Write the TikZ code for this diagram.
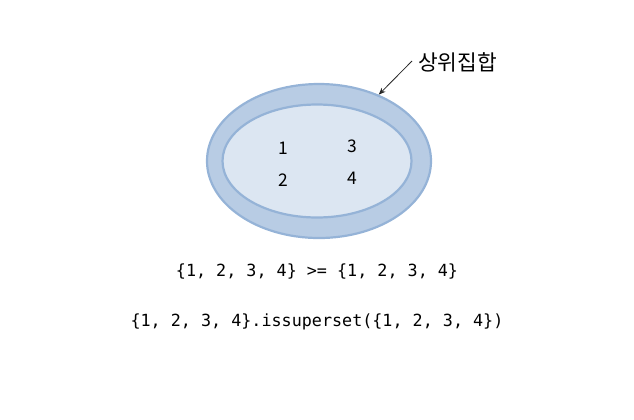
\documentclass[tikz,border=0pt]{standalone}
\usepackage{fontspec}
\setmonofont{DejaVu Sans Mono}
\newfontfamily\korfont{Noto Sans CJK KR}
\usepackage{xcolor}
\definecolor{SETBORDER}{RGB}{149,179,215}
\definecolor{OUTERCOLOR}{RGB}{184,204,228}
\definecolor{INNERCOLOR}{RGB}{220,230,242}
\usepackage{tikz}
\usetikzlibrary{shapes.geometric,arrows.meta,positioning}
\tikzset{
  set-style/.style = {
    ellipse, draw=SETBORDER, line width=2.2bp,
    fill=#1, inner sep=0pt
  },
  outer-set-style/.style = {
    set-style=OUTERCOLOR,
    minimum width=224bp, minimum height=154bp
  },
  inner-set-style/.style = {
    set-style=INNERCOLOR,
    minimum width=189bp, minimum height=113bp
  },
  elem-style/.style = {
    font=\korfont\fontsize{17.5}{20}\selectfont, inner sep=0pt
  },
  label-style/.style = {
    font=\korfont\fontsize{21.5}{24}\selectfont, inner sep=0pt
  },
  code-style/.style = {
    font=\ttfamily\fontsize{16.8}{19}\selectfont, inner sep=0pt
  },
  every edge/.style = {draw, -{Stealth[length=7bp,width=5.5bp]}, line width=0.8bp, black!85}
}

\begin{document}
\begin{tikzpicture}[x=1bp,y=-1bp]
    \useasboundingbox (0,0) rectangle (634,419);

    %%% sets
    \node[outer-set-style] (outerSet) at (319,161) {};
    \node[inner-set-style] (innerSet) at (317,161) {};

    %%% elements
    \node[elem-style] (elemOne) at (283,148) {1};
    \node[elem-style] (elemThree) at (352,146) {3};
    \node[elem-style] (elemTwo) at (283,180) {2};
    \node[elem-style] (elemFour) at (352,178) {4};

    %%% label
    \node[label-style,anchor=west] (superLabel) at (418,62) {상위집합};
    \path ([xshift=-6bp,yshift=1bp]superLabel.west) edge (outerSet.48);

    %%% code lines
    \node[code-style] (cmpLine) at (317,271) {\{1, 2, 3, 4\} >= \{1, 2, 3, 4\}};
    \node[code-style] (methodLine) at (317,322) {\{1, 2, 3, 4\}.issuperset(\{1, 2, 3, 4\})};
\end{tikzpicture}
\end{document}
